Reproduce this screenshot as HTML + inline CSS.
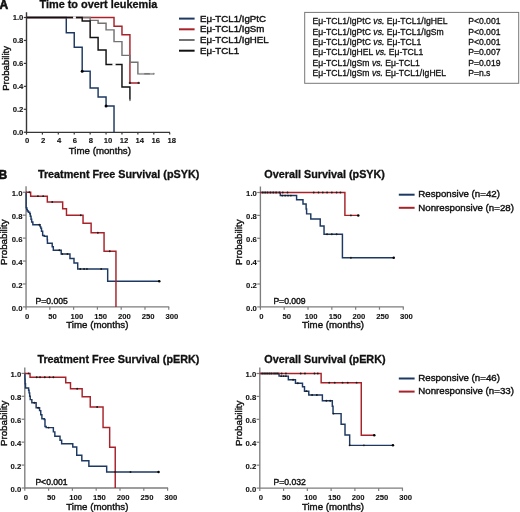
<!DOCTYPE html><html><head><meta charset="utf-8"><style>html,body{margin:0;padding:0;background:#fff;}svg{display:block;will-change:transform;}text{font-family:"Liberation Sans",sans-serif;}</style></head><body>
<svg width="520" height="512" viewBox="0 0 520 512"><rect width="520" height="512" fill="#fff"/>
<path d="M26.5,12.2V132.4H170" fill="none" stroke="#363636" stroke-width="1.4"/><path d="M23.8,132.25H26.5" stroke="#363636" stroke-width="1.2"/><text x="23.4" y="134.95" font-size="7.7" text-anchor="end" font-weight="bold" fill="#111" stroke="#111" stroke-width="0.1">0.0</text><path d="M23.8,109.3H26.5" stroke="#363636" stroke-width="1.2"/><text x="23.4" y="112" font-size="7.7" text-anchor="end" font-weight="bold" fill="#111" stroke="#111" stroke-width="0.1">0.2</text><path d="M23.8,86.35H26.5" stroke="#363636" stroke-width="1.2"/><text x="23.4" y="89.05" font-size="7.7" text-anchor="end" font-weight="bold" fill="#111" stroke="#111" stroke-width="0.1">0.4</text><path d="M23.8,63.4H26.5" stroke="#363636" stroke-width="1.2"/><text x="23.4" y="66.1" font-size="7.7" text-anchor="end" font-weight="bold" fill="#111" stroke="#111" stroke-width="0.1">0.6</text><path d="M23.8,40.45H26.5" stroke="#363636" stroke-width="1.2"/><text x="23.4" y="43.15" font-size="7.7" text-anchor="end" font-weight="bold" fill="#111" stroke="#111" stroke-width="0.1">0.8</text><path d="M23.8,17.5H26.5" stroke="#363636" stroke-width="1.2"/><text x="23.4" y="20.2" font-size="7.7" text-anchor="end" font-weight="bold" fill="#111" stroke="#111" stroke-width="0.1">1.0</text><path d="M26.5,132.4V134.6" stroke="#363636" stroke-width="1.2"/><text x="27.2" y="143.2" font-size="7.7" text-anchor="middle" font-weight="bold" fill="#111" stroke="#111" stroke-width="0.1">0</text><path d="M42.41,132.4V134.6" stroke="#363636" stroke-width="1.2"/><text x="43.11" y="143.2" font-size="7.7" text-anchor="middle" font-weight="bold" fill="#111" stroke="#111" stroke-width="0.1">2</text><path d="M58.32,132.4V134.6" stroke="#363636" stroke-width="1.2"/><text x="59.02" y="143.2" font-size="7.7" text-anchor="middle" font-weight="bold" fill="#111" stroke="#111" stroke-width="0.1">4</text><path d="M74.24,132.4V134.6" stroke="#363636" stroke-width="1.2"/><text x="74.94" y="143.2" font-size="7.7" text-anchor="middle" font-weight="bold" fill="#111" stroke="#111" stroke-width="0.1">6</text><path d="M90.15,132.4V134.6" stroke="#363636" stroke-width="1.2"/><text x="90.85" y="143.2" font-size="7.7" text-anchor="middle" font-weight="bold" fill="#111" stroke="#111" stroke-width="0.1">8</text><path d="M106.06,132.4V134.6" stroke="#363636" stroke-width="1.2"/><text x="108.06" y="143.2" font-size="7.7" text-anchor="middle" font-weight="bold" fill="#111" stroke="#111" stroke-width="0.1">10</text><path d="M121.97,132.4V134.6" stroke="#363636" stroke-width="1.2"/><text x="123.97" y="143.2" font-size="7.7" text-anchor="middle" font-weight="bold" fill="#111" stroke="#111" stroke-width="0.1">12</text><path d="M137.88,132.4V134.6" stroke="#363636" stroke-width="1.2"/><text x="139.88" y="143.2" font-size="7.7" text-anchor="middle" font-weight="bold" fill="#111" stroke="#111" stroke-width="0.1">14</text><path d="M153.8,132.4V134.6" stroke="#363636" stroke-width="1.2"/><text x="155.8" y="143.2" font-size="7.7" text-anchor="middle" font-weight="bold" fill="#111" stroke="#111" stroke-width="0.1">16</text><path d="M169.71,132.4V134.6" stroke="#363636" stroke-width="1.2"/><text x="171.71" y="143.2" font-size="7.7" text-anchor="middle" font-weight="bold" fill="#111" stroke="#111" stroke-width="0.1">18</text><text transform="translate(68.8 153.6) scale(1 0.96)" font-size="9.7" text-anchor="start" font-weight="normal" fill="#111" stroke="#111" stroke-width="0.4">Time (months)</text><text transform="translate(9.2 90.8) rotate(-90) scale(1 1.0)" font-size="9.6" text-anchor="start" font-weight="normal" fill="#111" stroke="#111" stroke-width="0.4">Probability</text><text transform="translate(39.5 7.7) scale(1 1.0)" font-size="10.9" text-anchor="start" font-weight="bold" fill="#111" stroke="#111" stroke-width="0.3">Time to overt leukemia</text><text x="-0.6" y="8.6" font-size="12" text-anchor="start" font-weight="bold" fill="#111" stroke="#111" stroke-width="0.6">A</text><path d="M26.5,17.5H66.28V32.76H74.24V47.22H82.19V71.32H90.15V88.07H98.1V96.91H106.06V106.09H114.02V132.25H114.02" fill="none" stroke="#1d3862" stroke-width="1.45"/><path d="M26.5,17.5H114.02V26.22H121.97V34.71H129.93V82.91H138.68" fill="none" stroke="#a8222a" stroke-width="1.45"/><path d="M26.5,17.5H90.15V20.37H98.1V23.24H106.06V29.89H114.02V41.6H121.97V55.37H129.93V62.25H137.88V73.73H153.8" fill="none" stroke="#737373" stroke-width="1.45"/><path d="M26.5,17.5H82.19V20.94H90.15V37.58H98.1V49.97H106.06V64.55H121.97V87.04H129.93V100.35H129.93" fill="none" stroke="#111" stroke-width="1.45"/><circle cx="82.19" cy="71.32" r="1.5" fill="#000"/><circle cx="106.06" cy="106.09" r="1.5" fill="#000"/><path d="M138.58,73.73H153.8" stroke="#a8a8a8" stroke-width="1.6"/><circle cx="129.93" cy="82.91" r="1.2" fill="#3a2222"/><circle cx="138.68" cy="82.91" r="1.2" fill="#3a2222"/><path d="M144.25,73.73H149.82" stroke="#777" stroke-width="1.4"/><circle cx="153.8" cy="73.73" r="0.9" fill="#888"/><circle cx="129.93" cy="100.35" r="1.0" fill="#999"/><rect x="73.1" y="16.4" width="2.8" height="2.3" fill="#fff"/><rect x="112.4" y="63.2" width="3.2" height="2.6" fill="#fff"/><path d="M179,18.6H194.6" stroke="#1d3862" stroke-width="2"/><text x="200.1" y="21.5" font-size="9.7" text-anchor="start" font-weight="normal" fill="#111" stroke="#111" stroke-width="0.4">E&#956;-TCL1/IgPtC</text><path d="M179,29.3H194.6" stroke="#a8222a" stroke-width="2"/><text x="200.1" y="32.2" font-size="9.7" text-anchor="start" font-weight="normal" fill="#111" stroke="#111" stroke-width="0.4">E&#956;-TCL1/IgSm</text><path d="M179,40H194.6" stroke="#737373" stroke-width="2"/><text x="200.1" y="42.9" font-size="9.7" text-anchor="start" font-weight="normal" fill="#111" stroke="#111" stroke-width="0.4">E&#956;-TCL1/IgHEL</text><path d="M179,50.7H194.6" stroke="#111" stroke-width="2"/><text x="200.1" y="53.6" font-size="9.7" text-anchor="start" font-weight="normal" fill="#111" stroke="#111" stroke-width="0.4">E&#956;-TCL1</text><rect x="304.7" y="12.4" width="214" height="70.9" fill="none" stroke="#777" stroke-width="1"/><text x="312.5" y="24.4" font-size="8.6" fill="#111" stroke="#111" stroke-width="0.3">E&#956;-TCL1/IgPtC <tspan font-style="italic">vs.</tspan> E&#956;-TCL1/IgHEL</text><text x="468.2" y="24.4" font-size="8.6" text-anchor="start" font-weight="normal" fill="#111" stroke="#111" stroke-width="0.3">P&lt;0.001</text><text x="312.5" y="34.68" font-size="8.6" fill="#111" stroke="#111" stroke-width="0.3">E&#956;-TCL1/IgPtC <tspan font-style="italic">vs.</tspan> E&#956;-TCL1/IgSm</text><text x="468.2" y="34.68" font-size="8.6" text-anchor="start" font-weight="normal" fill="#111" stroke="#111" stroke-width="0.3">P&lt;0.001</text><text x="312.5" y="44.96" font-size="8.6" fill="#111" stroke="#111" stroke-width="0.3">E&#956;-TCL1/IgPtC <tspan font-style="italic">vs.</tspan> E&#956;-TCL1</text><text x="468.2" y="44.96" font-size="8.6" text-anchor="start" font-weight="normal" fill="#111" stroke="#111" stroke-width="0.3">P&lt;0.001</text><text x="312.5" y="55.24" font-size="8.6" fill="#111" stroke="#111" stroke-width="0.3">E&#956;-TCL1/IgHEL <tspan font-style="italic">vs.</tspan> E&#956;-TCL1</text><text x="468.2" y="55.24" font-size="8.6" text-anchor="start" font-weight="normal" fill="#111" stroke="#111" stroke-width="0.3">P=0.007</text><text x="312.5" y="65.52" font-size="8.6" fill="#111" stroke="#111" stroke-width="0.3">E&#956;-TCL1/IgSm <tspan font-style="italic">vs.</tspan> E&#956;-TCL1</text><text x="468.2" y="65.52" font-size="8.6" text-anchor="start" font-weight="normal" fill="#111" stroke="#111" stroke-width="0.3">P=0.019</text><text x="312.5" y="75.8" font-size="8.6" fill="#111" stroke="#111" stroke-width="0.3">E&#956;-TCL1/IgSm <tspan font-style="italic">vs.</tspan> E&#956;-TCL1/IgHEL</text><text x="468.2" y="75.8" font-size="8.6" text-anchor="start" font-weight="normal" fill="#111" stroke="#111" stroke-width="0.3">P=n.s</text>
<path d="M26.05,186.25V306.9H169.26" fill="none" stroke="#7d7d7d" stroke-width="1.35"/><path d="M22.85,306.9H26.05" stroke="#7d7d7d" stroke-width="1.2"/><text x="22.45" y="310.7" font-size="7.7" text-anchor="end" font-weight="bold" fill="#111" stroke="#111" stroke-width="0.1">0.0</text><path d="M22.85,283.97H26.05" stroke="#7d7d7d" stroke-width="1.2"/><text x="22.45" y="287.77" font-size="7.7" text-anchor="end" font-weight="bold" fill="#111" stroke="#111" stroke-width="0.1">0.2</text><path d="M22.85,261.04H26.05" stroke="#7d7d7d" stroke-width="1.2"/><text x="22.45" y="264.84" font-size="7.7" text-anchor="end" font-weight="bold" fill="#111" stroke="#111" stroke-width="0.1">0.4</text><path d="M22.85,238.11H26.05" stroke="#7d7d7d" stroke-width="1.2"/><text x="22.45" y="241.91" font-size="7.7" text-anchor="end" font-weight="bold" fill="#111" stroke="#111" stroke-width="0.1">0.6</text><path d="M22.85,215.18H26.05" stroke="#7d7d7d" stroke-width="1.2"/><text x="22.45" y="218.98" font-size="7.7" text-anchor="end" font-weight="bold" fill="#111" stroke="#111" stroke-width="0.1">0.8</text><path d="M22.85,192.25H26.05" stroke="#7d7d7d" stroke-width="1.2"/><text x="22.45" y="196.05" font-size="7.7" text-anchor="end" font-weight="bold" fill="#111" stroke="#111" stroke-width="0.1">1.0</text><path d="M26.05,306.9V309.7" stroke="#7d7d7d" stroke-width="1.2"/><text x="27.05" y="318.5" font-size="7.7" text-anchor="middle" font-weight="bold" fill="#111" stroke="#111" stroke-width="0.1">0</text><path d="M49.84,306.9V309.7" stroke="#7d7d7d" stroke-width="1.2"/><text x="52.44" y="318.5" font-size="7.7" text-anchor="middle" font-weight="bold" fill="#111" stroke="#111" stroke-width="0.1">50</text><path d="M73.62,306.9V309.7" stroke="#7d7d7d" stroke-width="1.2"/><text x="76.82" y="318.5" font-size="7.7" text-anchor="middle" font-weight="bold" fill="#111" stroke="#111" stroke-width="0.1">100</text><path d="M97.41,306.9V309.7" stroke="#7d7d7d" stroke-width="1.2"/><text x="100.61" y="318.5" font-size="7.7" text-anchor="middle" font-weight="bold" fill="#111" stroke="#111" stroke-width="0.1">150</text><path d="M121.19,306.9V309.7" stroke="#7d7d7d" stroke-width="1.2"/><text x="124.39" y="318.5" font-size="7.7" text-anchor="middle" font-weight="bold" fill="#111" stroke="#111" stroke-width="0.1">200</text><path d="M144.97,306.9V309.7" stroke="#7d7d7d" stroke-width="1.2"/><text x="148.17" y="318.5" font-size="7.7" text-anchor="middle" font-weight="bold" fill="#111" stroke="#111" stroke-width="0.1">250</text><path d="M168.76,306.9V309.7" stroke="#7d7d7d" stroke-width="1.2"/><text x="171.96" y="318.5" font-size="7.7" text-anchor="middle" font-weight="bold" fill="#111" stroke="#111" stroke-width="0.1">300</text><text transform="translate(66.3 328.4) scale(1 0.96)" font-size="9.7" text-anchor="start" font-weight="normal" fill="#111" stroke="#111" stroke-width="0.4">Time (months)</text><text transform="translate(7.2 265) rotate(-90) scale(1 1.0)" font-size="9.75" text-anchor="start" font-weight="normal" fill="#111" stroke="#111" stroke-width="0.4">Probability</text><text transform="translate(37.9 178.2) scale(1 1.0)" font-size="10.8" text-anchor="start" font-weight="bold" fill="#111" stroke="#111" stroke-width="0.3">Treatment Free Survival (pSYK)</text><text x="35.5" y="303.8" font-size="8.6" text-anchor="start" font-weight="normal" fill="#111" stroke="#111" stroke-width="0.4">P=0.005</text><path d="M26.05,192.25H26.15V207.84H26.76V209.45H27.33V210.94H28.43V212.31H29.76V213.69H30.33V216.33H31.04V219.19H31.66V221.94H32.85V224.81H40.08V226.64H40.7V228.14H41.51V231.23H42.65V235.47H44.22V236.28H47.22V239.83H47.41V243.15H52.21V246.71H53.31V250.26H61.2V253.93H69.96V258.4H74V262.99H77.71V268.95H107.68V281.33H159.25" fill="none" stroke="#1d3862" stroke-width="1.45"/><path d="M26.05,192.25H30.66V196.15H47.31V202H62.68V208.76H66.48V215.18H83.04V223.21H91.13V232.72H104.06V251.18H115.96V306.9H115.96" fill="none" stroke="#a8222a" stroke-width="1.45"/><circle cx="29.38" cy="192.25" r="0.95" fill="#1a1a1a"/><circle cx="37.94" cy="196.15" r="0.95" fill="#1a1a1a"/><circle cx="43.18" cy="196.15" r="0.95" fill="#1a1a1a"/><circle cx="52.21" cy="202" r="0.95" fill="#1a1a1a"/><circle cx="80.76" cy="215.18" r="0.95" fill="#1a1a1a"/><circle cx="97.88" cy="232.72" r="0.95" fill="#1a1a1a"/><circle cx="109.77" cy="251.18" r="0.95" fill="#1a1a1a"/><circle cx="39.37" cy="224.81" r="0.95" fill="#1a1a1a"/><circle cx="59.35" cy="250.26" r="0.95" fill="#1a1a1a"/><circle cx="62.2" cy="253.93" r="0.95" fill="#1a1a1a"/><circle cx="67.44" cy="253.93" r="0.95" fill="#1a1a1a"/><circle cx="80.28" cy="268.95" r="0.95" fill="#1a1a1a"/><circle cx="84.09" cy="268.95" r="0.95" fill="#1a1a1a"/><circle cx="86.94" cy="268.95" r="0.95" fill="#1a1a1a"/><circle cx="101.21" cy="268.95" r="0.95" fill="#1a1a1a"/><circle cx="159.25" cy="281.33" r="1.25" fill="#000"/><text x="-1.5" y="178.5" font-size="12" text-anchor="start" font-weight="bold" fill="#111" stroke="#111" stroke-width="0.6">B</text>
<path d="M260.4,186.5V306.9H403.79" fill="none" stroke="#7d7d7d" stroke-width="1.35"/><path d="M257.2,306.9H260.4" stroke="#7d7d7d" stroke-width="1.2"/><text x="256.8" y="310.7" font-size="7.7" text-anchor="end" font-weight="bold" fill="#111" stroke="#111" stroke-width="0.1">0.0</text><path d="M257.2,284.02H260.4" stroke="#7d7d7d" stroke-width="1.2"/><text x="256.8" y="287.82" font-size="7.7" text-anchor="end" font-weight="bold" fill="#111" stroke="#111" stroke-width="0.1">0.2</text><path d="M257.2,261.14H260.4" stroke="#7d7d7d" stroke-width="1.2"/><text x="256.8" y="264.94" font-size="7.7" text-anchor="end" font-weight="bold" fill="#111" stroke="#111" stroke-width="0.1">0.4</text><path d="M257.2,238.26H260.4" stroke="#7d7d7d" stroke-width="1.2"/><text x="256.8" y="242.06" font-size="7.7" text-anchor="end" font-weight="bold" fill="#111" stroke="#111" stroke-width="0.1">0.6</text><path d="M257.2,215.38H260.4" stroke="#7d7d7d" stroke-width="1.2"/><text x="256.8" y="219.18" font-size="7.7" text-anchor="end" font-weight="bold" fill="#111" stroke="#111" stroke-width="0.1">0.8</text><path d="M257.2,192.5H260.4" stroke="#7d7d7d" stroke-width="1.2"/><text x="256.8" y="196.3" font-size="7.7" text-anchor="end" font-weight="bold" fill="#111" stroke="#111" stroke-width="0.1">1.0</text><path d="M260.4,306.9V309.7" stroke="#7d7d7d" stroke-width="1.2"/><text x="261.4" y="318.5" font-size="7.7" text-anchor="middle" font-weight="bold" fill="#111" stroke="#111" stroke-width="0.1">0</text><path d="M284.21,306.9V309.7" stroke="#7d7d7d" stroke-width="1.2"/><text x="286.81" y="318.5" font-size="7.7" text-anchor="middle" font-weight="bold" fill="#111" stroke="#111" stroke-width="0.1">50</text><path d="M308.03,306.9V309.7" stroke="#7d7d7d" stroke-width="1.2"/><text x="311.23" y="318.5" font-size="7.7" text-anchor="middle" font-weight="bold" fill="#111" stroke="#111" stroke-width="0.1">100</text><path d="M331.84,306.9V309.7" stroke="#7d7d7d" stroke-width="1.2"/><text x="335.04" y="318.5" font-size="7.7" text-anchor="middle" font-weight="bold" fill="#111" stroke="#111" stroke-width="0.1">150</text><path d="M355.66,306.9V309.7" stroke="#7d7d7d" stroke-width="1.2"/><text x="358.86" y="318.5" font-size="7.7" text-anchor="middle" font-weight="bold" fill="#111" stroke="#111" stroke-width="0.1">200</text><path d="M379.47,306.9V309.7" stroke="#7d7d7d" stroke-width="1.2"/><text x="382.67" y="318.5" font-size="7.7" text-anchor="middle" font-weight="bold" fill="#111" stroke="#111" stroke-width="0.1">250</text><path d="M403.29,306.9V309.7" stroke="#7d7d7d" stroke-width="1.2"/><text x="406.49" y="318.5" font-size="7.7" text-anchor="middle" font-weight="bold" fill="#111" stroke="#111" stroke-width="0.1">300</text><text transform="translate(301.9 328.4) scale(1 0.96)" font-size="9.7" text-anchor="start" font-weight="normal" fill="#111" stroke="#111" stroke-width="0.4">Time (months)</text><text transform="translate(242.4 265) rotate(-90) scale(1 1.0)" font-size="9.75" text-anchor="start" font-weight="normal" fill="#111" stroke="#111" stroke-width="0.4">Probability</text><text transform="translate(264.35 178.1) scale(1 1.0)" font-size="10.8" text-anchor="start" font-weight="bold" fill="#111" stroke="#111" stroke-width="0.3">Overall Survival (pSYK)</text><text x="273.4" y="303.8" font-size="8.6" text-anchor="start" font-weight="normal" fill="#111" stroke="#111" stroke-width="0.4">P=0.009</text><path d="M260.4,192.5H280.31V195.59H296.6V199.82H302.98V203.94H306.12V209.09H306.6V213.89H310.79V219.04H320.22V225.9H324.03V234.26H342.42V257.71H393.76" fill="none" stroke="#1d3862" stroke-width="1.45"/><path d="M260.4,192.5H344.9V215.38H358.28" fill="none" stroke="#a8222a" stroke-width="1.45"/><circle cx="262.78" cy="192.5" r="0.95" fill="#1a1a1a"/><circle cx="265.16" cy="192.5" r="0.95" fill="#1a1a1a"/><circle cx="267.54" cy="192.5" r="0.95" fill="#1a1a1a"/><circle cx="270.4" cy="192.5" r="0.95" fill="#1a1a1a"/><circle cx="273.26" cy="192.5" r="0.95" fill="#1a1a1a"/><circle cx="276.12" cy="192.5" r="0.95" fill="#1a1a1a"/><circle cx="279.45" cy="192.5" r="0.95" fill="#1a1a1a"/><circle cx="282.79" cy="192.5" r="0.95" fill="#1a1a1a"/><circle cx="287.55" cy="192.5" r="0.95" fill="#1a1a1a"/><circle cx="313.75" cy="192.5" r="0.95" fill="#1a1a1a"/><circle cx="318.51" cy="192.5" r="0.95" fill="#1a1a1a"/><circle cx="322.8" cy="192.5" r="0.95" fill="#1a1a1a"/><circle cx="327.08" cy="192.5" r="0.95" fill="#1a1a1a"/><circle cx="331.84" cy="192.5" r="0.95" fill="#1a1a1a"/><circle cx="336.61" cy="192.5" r="0.95" fill="#1a1a1a"/><circle cx="340.42" cy="192.5" r="0.95" fill="#1a1a1a"/><circle cx="350.9" cy="215.38" r="0.95" fill="#1a1a1a"/><circle cx="358.28" cy="215.38" r="1.25" fill="#000"/><circle cx="282.31" cy="195.59" r="0.95" fill="#1a1a1a"/><circle cx="285.17" cy="195.59" r="0.95" fill="#1a1a1a"/><circle cx="288.03" cy="195.59" r="0.95" fill="#1a1a1a"/><circle cx="290.88" cy="195.59" r="0.95" fill="#1a1a1a"/><circle cx="327.08" cy="234.26" r="0.95" fill="#1a1a1a"/><circle cx="331.84" cy="234.26" r="0.95" fill="#1a1a1a"/><circle cx="336.61" cy="234.26" r="0.95" fill="#1a1a1a"/><circle cx="350.9" cy="257.71" r="0.95" fill="#1a1a1a"/><circle cx="393.76" cy="257.71" r="1.25" fill="#000"/><path d="M398.8,194.7H414.6" stroke="#1d3862" stroke-width="2"/><text x="418.3" y="197.4" font-size="9.7" text-anchor="start" font-weight="normal" fill="#111" stroke="#111" stroke-width="0.4">Responsive (n=42)</text><path d="M398.8,207.8H414.6" stroke="#a8222a" stroke-width="2"/><text x="418.3" y="210.5" font-size="9.7" text-anchor="start" font-weight="normal" fill="#111" stroke="#111" stroke-width="0.4">Nonresponsive (n=28)</text>
<path d="M24.8,367.4V488H168.1" fill="none" stroke="#7d7d7d" stroke-width="1.35"/><path d="M21.6,488H24.8" stroke="#7d7d7d" stroke-width="1.2"/><text x="21.2" y="491.8" font-size="7.7" text-anchor="end" font-weight="bold" fill="#111" stroke="#111" stroke-width="0.1">0.0</text><path d="M21.6,465.08H24.8" stroke="#7d7d7d" stroke-width="1.2"/><text x="21.2" y="468.88" font-size="7.7" text-anchor="end" font-weight="bold" fill="#111" stroke="#111" stroke-width="0.1">0.2</text><path d="M21.6,442.16H24.8" stroke="#7d7d7d" stroke-width="1.2"/><text x="21.2" y="445.96" font-size="7.7" text-anchor="end" font-weight="bold" fill="#111" stroke="#111" stroke-width="0.1">0.4</text><path d="M21.6,419.24H24.8" stroke="#7d7d7d" stroke-width="1.2"/><text x="21.2" y="423.04" font-size="7.7" text-anchor="end" font-weight="bold" fill="#111" stroke="#111" stroke-width="0.1">0.6</text><path d="M21.6,396.32H24.8" stroke="#7d7d7d" stroke-width="1.2"/><text x="21.2" y="400.12" font-size="7.7" text-anchor="end" font-weight="bold" fill="#111" stroke="#111" stroke-width="0.1">0.8</text><path d="M21.6,373.4H24.8" stroke="#7d7d7d" stroke-width="1.2"/><text x="21.2" y="377.2" font-size="7.7" text-anchor="end" font-weight="bold" fill="#111" stroke="#111" stroke-width="0.1">1.0</text><path d="M24.8,488V490.8" stroke="#7d7d7d" stroke-width="1.2"/><text x="25.8" y="499.6" font-size="7.7" text-anchor="middle" font-weight="bold" fill="#111" stroke="#111" stroke-width="0.1">0</text><path d="M48.6,488V490.8" stroke="#7d7d7d" stroke-width="1.2"/><text x="51.2" y="499.6" font-size="7.7" text-anchor="middle" font-weight="bold" fill="#111" stroke="#111" stroke-width="0.1">50</text><path d="M72.4,488V490.8" stroke="#7d7d7d" stroke-width="1.2"/><text x="75.6" y="499.6" font-size="7.7" text-anchor="middle" font-weight="bold" fill="#111" stroke="#111" stroke-width="0.1">100</text><path d="M96.2,488V490.8" stroke="#7d7d7d" stroke-width="1.2"/><text x="99.4" y="499.6" font-size="7.7" text-anchor="middle" font-weight="bold" fill="#111" stroke="#111" stroke-width="0.1">150</text><path d="M120,488V490.8" stroke="#7d7d7d" stroke-width="1.2"/><text x="123.2" y="499.6" font-size="7.7" text-anchor="middle" font-weight="bold" fill="#111" stroke="#111" stroke-width="0.1">200</text><path d="M143.8,488V490.8" stroke="#7d7d7d" stroke-width="1.2"/><text x="147" y="499.6" font-size="7.7" text-anchor="middle" font-weight="bold" fill="#111" stroke="#111" stroke-width="0.1">250</text><path d="M167.6,488V490.8" stroke="#7d7d7d" stroke-width="1.2"/><text x="170.8" y="499.6" font-size="7.7" text-anchor="middle" font-weight="bold" fill="#111" stroke="#111" stroke-width="0.1">300</text><text transform="translate(66.3 509.5) scale(1 0.96)" font-size="9.7" text-anchor="start" font-weight="normal" fill="#111" stroke="#111" stroke-width="0.4">Time (months)</text><text transform="translate(7.3 446.1) rotate(-90) scale(1 1.0)" font-size="9.75" text-anchor="start" font-weight="normal" fill="#111" stroke="#111" stroke-width="0.4">Probability</text><text transform="translate(37.4 363.4) scale(1 1.0)" font-size="10.8" text-anchor="start" font-weight="bold" fill="#111" stroke="#111" stroke-width="0.3">Treatment Free Survival (pERK)</text><text x="35.4" y="485.3" font-size="8.6" text-anchor="start" font-weight="normal" fill="#111" stroke="#111" stroke-width="0.4">P&lt;0.001</text><path d="M24.8,373.4H24.94V379.13H25.13V383.71H25.51V387.95H28.61V390.25H29.08V392.88H29.66V396.32H30.23V399.64H31.84V402.74H36.13V407.78H39.56V410.64H40.75V414.66H41.89V418.67H44.27V419.47H44.98V426.57H46.17V427.61H53.36V431.85H54.84V436.2H60.02V440.21H61.64V443.65H72.78V446.97H76.73V455.34H81.82V460.84H88.87V466.23H106.67V471.96H158.56" fill="none" stroke="#1d3862" stroke-width="1.45"/><path d="M24.8,373.4H30.04V377.18H65.74V382.68H70.5V388.76H82.16V396.78H90.25V406.98H103.05V427.49H109.67V447.32H115.24V488H115.24" fill="none" stroke="#a8222a" stroke-width="1.45"/><circle cx="28.61" cy="373.4" r="0.95" fill="#1a1a1a"/><circle cx="36.7" cy="377.18" r="0.95" fill="#1a1a1a"/><circle cx="40.03" cy="377.18" r="0.95" fill="#1a1a1a"/><circle cx="44.79" cy="377.18" r="0.95" fill="#1a1a1a"/><circle cx="49.55" cy="377.18" r="0.95" fill="#1a1a1a"/><circle cx="53.36" cy="377.18" r="0.95" fill="#1a1a1a"/><circle cx="77.16" cy="388.76" r="0.95" fill="#1a1a1a"/><circle cx="97.15" cy="406.98" r="0.95" fill="#1a1a1a"/><circle cx="34.32" cy="402.74" r="0.95" fill="#1a1a1a"/><circle cx="38.13" cy="407.78" r="0.95" fill="#1a1a1a"/><circle cx="48.6" cy="427.61" r="0.95" fill="#1a1a1a"/><circle cx="115.24" cy="471.96" r="0.95" fill="#1a1a1a"/><circle cx="130.47" cy="471.96" r="0.95" fill="#1a1a1a"/><circle cx="158.56" cy="471.96" r="1.25" fill="#000"/>
<path d="M259.8,367.5V488.1H402.95" fill="none" stroke="#7d7d7d" stroke-width="1.35"/><path d="M256.6,488.1H259.8" stroke="#7d7d7d" stroke-width="1.2"/><text x="256.2" y="491.9" font-size="7.7" text-anchor="end" font-weight="bold" fill="#111" stroke="#111" stroke-width="0.1">0.0</text><path d="M256.6,465.18H259.8" stroke="#7d7d7d" stroke-width="1.2"/><text x="256.2" y="468.98" font-size="7.7" text-anchor="end" font-weight="bold" fill="#111" stroke="#111" stroke-width="0.1">0.2</text><path d="M256.6,442.26H259.8" stroke="#7d7d7d" stroke-width="1.2"/><text x="256.2" y="446.06" font-size="7.7" text-anchor="end" font-weight="bold" fill="#111" stroke="#111" stroke-width="0.1">0.4</text><path d="M256.6,419.34H259.8" stroke="#7d7d7d" stroke-width="1.2"/><text x="256.2" y="423.14" font-size="7.7" text-anchor="end" font-weight="bold" fill="#111" stroke="#111" stroke-width="0.1">0.6</text><path d="M256.6,396.42H259.8" stroke="#7d7d7d" stroke-width="1.2"/><text x="256.2" y="400.22" font-size="7.7" text-anchor="end" font-weight="bold" fill="#111" stroke="#111" stroke-width="0.1">0.8</text><path d="M256.6,373.5H259.8" stroke="#7d7d7d" stroke-width="1.2"/><text x="256.2" y="377.3" font-size="7.7" text-anchor="end" font-weight="bold" fill="#111" stroke="#111" stroke-width="0.1">1.0</text><path d="M259.8,488.1V490.9" stroke="#7d7d7d" stroke-width="1.2"/><text x="260.8" y="499.7" font-size="7.7" text-anchor="middle" font-weight="bold" fill="#111" stroke="#111" stroke-width="0.1">0</text><path d="M283.57,488.1V490.9" stroke="#7d7d7d" stroke-width="1.2"/><text x="286.18" y="499.7" font-size="7.7" text-anchor="middle" font-weight="bold" fill="#111" stroke="#111" stroke-width="0.1">50</text><path d="M307.35,488.1V490.9" stroke="#7d7d7d" stroke-width="1.2"/><text x="310.55" y="499.7" font-size="7.7" text-anchor="middle" font-weight="bold" fill="#111" stroke="#111" stroke-width="0.1">100</text><path d="M331.12,488.1V490.9" stroke="#7d7d7d" stroke-width="1.2"/><text x="334.32" y="499.7" font-size="7.7" text-anchor="middle" font-weight="bold" fill="#111" stroke="#111" stroke-width="0.1">150</text><path d="M354.9,488.1V490.9" stroke="#7d7d7d" stroke-width="1.2"/><text x="358.1" y="499.7" font-size="7.7" text-anchor="middle" font-weight="bold" fill="#111" stroke="#111" stroke-width="0.1">200</text><path d="M378.68,488.1V490.9" stroke="#7d7d7d" stroke-width="1.2"/><text x="381.88" y="499.7" font-size="7.7" text-anchor="middle" font-weight="bold" fill="#111" stroke="#111" stroke-width="0.1">250</text><path d="M402.45,488.1V490.9" stroke="#7d7d7d" stroke-width="1.2"/><text x="405.65" y="499.7" font-size="7.7" text-anchor="middle" font-weight="bold" fill="#111" stroke="#111" stroke-width="0.1">300</text><text transform="translate(301.9 509.5) scale(1 0.96)" font-size="9.7" text-anchor="start" font-weight="normal" fill="#111" stroke="#111" stroke-width="0.4">Time (months)</text><text transform="translate(242.4 446.1) rotate(-90) scale(1 1.0)" font-size="9.75" text-anchor="start" font-weight="normal" fill="#111" stroke="#111" stroke-width="0.4">Probability</text><text transform="translate(264.35 363.2) scale(1 1.0)" font-size="10.8" text-anchor="start" font-weight="bold" fill="#111" stroke="#111" stroke-width="0.3">Overall Survival (pERK)</text><text x="273.5" y="485.3" font-size="8.6" text-anchor="start" font-weight="normal" fill="#111" stroke="#111" stroke-width="0.4">P=0.032</text><path d="M259.8,373.5H279.06V376.14H288.33V379.69H295.46V383.24H302.5V386.79H304.5V391.15H308.78V394.93H322.38V400.77H332.31V406.28H333.03V413.61H341.11V424.27H345.01V434.93H349.67V445.35H392.94" fill="none" stroke="#1d3862" stroke-width="1.45"/><path d="M259.8,373.5H321.14V382.67H361.27V435.15H374.25" fill="none" stroke="#a8222a" stroke-width="1.45"/><circle cx="262.18" cy="373.5" r="0.95" fill="#1a1a1a"/><circle cx="264.08" cy="373.5" r="0.95" fill="#1a1a1a"/><circle cx="265.98" cy="373.5" r="0.95" fill="#1a1a1a"/><circle cx="267.88" cy="373.5" r="0.95" fill="#1a1a1a"/><circle cx="269.79" cy="373.5" r="0.95" fill="#1a1a1a"/><circle cx="271.69" cy="373.5" r="0.95" fill="#1a1a1a"/><circle cx="274.06" cy="373.5" r="0.95" fill="#1a1a1a"/><circle cx="275.97" cy="373.5" r="0.95" fill="#1a1a1a"/><circle cx="277.87" cy="373.5" r="0.95" fill="#1a1a1a"/><circle cx="281.67" cy="373.5" r="0.95" fill="#1a1a1a"/><circle cx="285.95" cy="373.5" r="0.95" fill="#1a1a1a"/><circle cx="300.69" cy="373.5" r="0.95" fill="#1a1a1a"/><circle cx="304.97" cy="373.5" r="0.95" fill="#1a1a1a"/><circle cx="314.48" cy="373.5" r="0.95" fill="#1a1a1a"/><circle cx="317.81" cy="373.5" r="0.95" fill="#1a1a1a"/><circle cx="329.22" cy="382.67" r="0.95" fill="#1a1a1a"/><circle cx="334.74" cy="382.67" r="0.95" fill="#1a1a1a"/><circle cx="342.54" cy="382.67" r="0.95" fill="#1a1a1a"/><circle cx="347.77" cy="382.67" r="0.95" fill="#1a1a1a"/><circle cx="356.61" cy="382.67" r="0.95" fill="#1a1a1a"/><circle cx="374.25" cy="435.15" r="1.25" fill="#000"/><circle cx="281.2" cy="376.14" r="0.95" fill="#1a1a1a"/><circle cx="283.57" cy="376.14" r="0.95" fill="#1a1a1a"/><circle cx="285.95" cy="376.14" r="0.95" fill="#1a1a1a"/><circle cx="293.09" cy="379.69" r="0.95" fill="#1a1a1a"/><circle cx="297.84" cy="383.24" r="0.95" fill="#1a1a1a"/><circle cx="306.4" cy="391.15" r="0.95" fill="#1a1a1a"/><circle cx="312.11" cy="394.93" r="0.95" fill="#1a1a1a"/><circle cx="316.86" cy="394.93" r="0.95" fill="#1a1a1a"/><circle cx="326.37" cy="400.77" r="0.95" fill="#1a1a1a"/><circle cx="330.17" cy="400.77" r="0.95" fill="#1a1a1a"/><circle cx="333.5" cy="413.61" r="0.95" fill="#1a1a1a"/><circle cx="349.67" cy="445.35" r="0.95" fill="#1a1a1a"/><circle cx="363.93" cy="445.35" r="0.95" fill="#1a1a1a"/><circle cx="392.94" cy="445.35" r="1.25" fill="#000"/><path d="M398.8,378.5H414.6" stroke="#1d3862" stroke-width="2"/><text x="418.3" y="381.2" font-size="9.7" text-anchor="start" font-weight="normal" fill="#111" stroke="#111" stroke-width="0.4">Responsive (n=46)</text><path d="M398.8,391.6H414.6" stroke="#a8222a" stroke-width="2"/><text x="418.3" y="394.3" font-size="9.7" text-anchor="start" font-weight="normal" fill="#111" stroke="#111" stroke-width="0.4">Nonresponsive (n=33)</text>
</svg></body></html>
